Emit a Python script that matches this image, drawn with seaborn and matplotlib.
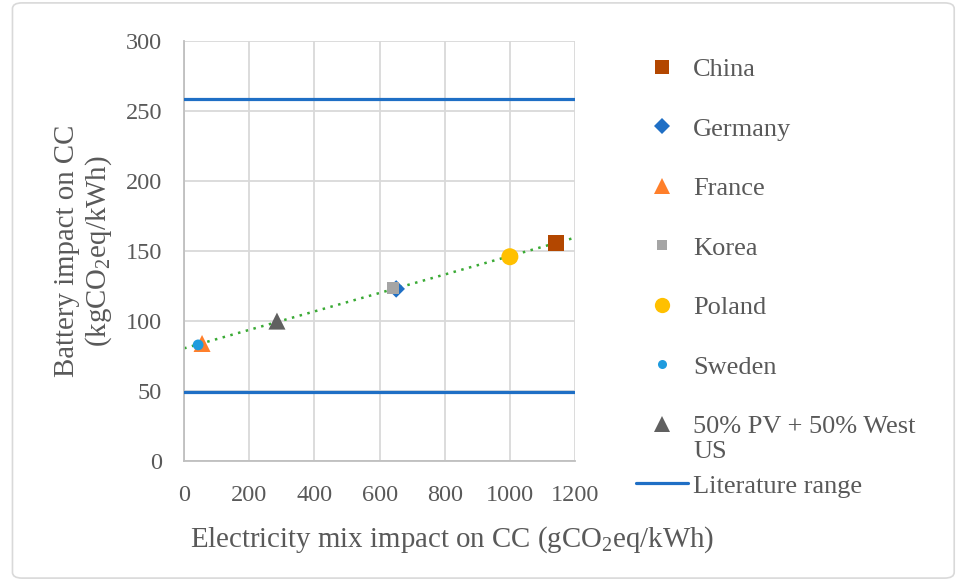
import numpy as np
import pandas as pd
import matplotlib
matplotlib.use("Agg")
import matplotlib.pyplot as plt
from matplotlib.lines import Line2D
from matplotlib.patches import FancyBboxPatch
import seaborn as sns

countries = ["China", "Germany", "France", "Korea", "Poland", "Sweden", "50% PV + 50% West US"]
elec_mix = [1142, 651, 55, 641, 1000, 43, 285]
battery = [156, 123, 84, 123.5, 146, 83, 100]
literature_range = [259, 49]
x_ticks = [0, 200, 400, 600, 800, 1000, 1200]
y_ticks = [0, 50, 100, 150, 200, 250, 300]

markers = ["s", "D", "^", "s", "o", "o", "^"]
colors = ["#b34700", "#1f6fc5", "#ff7f2a", "#a5a5a5", "#ffc000", "#1f9bde", "#606060"]
msizes = [140, 80, 150, 70, 150, 60, 150]
leg_sizes = [10.5, 8.5, 11, 7, 11, 6.5, 11]

sns.set_theme(style="white")
plt.rcParams["font.family"] = ["Liberation Serif", "DejaVu Serif"]
plt.rcParams["mathtext.fontset"] = "custom"
plt.rcParams["mathtext.rm"] = "Liberation Serif"

text_col = "#595959"
fs_leg = 19
fs_lab = 20.8
fig = plt.figure(figsize=(9.59, 5.81), dpi=100)
ax = fig.add_axes([0.192, 0.2065, 0.4076, 0.7225])
ax.set_xlim(0, 1200)
ax.set_ylim(0, 300)

df = pd.DataFrame({"country": countries, "x": elec_mix, "y": battery})

# trend line
sns.regplot(data=df, x="x", y="y", ax=ax, scatter=False, ci=None, truncate=False,
            line_kws=dict(color="#3aaa35", lw=1.8, ls=(0, (1, 2.2)), zorder=2))

for hl in literature_range:
    ax.axhline(hl, color="#1f6fc5", lw=2.3, zorder=3)

handles = []
for c, m, col, s, ls_ in zip(countries, markers, colors, msizes, leg_sizes):
    sub = df[df["country"] == c]
    sns.scatterplot(data=sub, x="x", y="y", ax=ax, marker=m, color=col, s=s,
                    edgecolor="none", linewidth=0, zorder=4, legend=False)
    lab = "50% PV + 50% West" if c.startswith("50%") else c
    handles.append(Line2D([], [], ls="none", marker=m, color=col, markersize=ls_,
                          markeredgewidth=0, label=lab))
handles.append(Line2D([], [], color="#1f6fc5", lw=2.3, label="Literature range"))

ax.set_xticks(x_ticks)
ax.set_yticks(y_ticks)
ax.grid(True, color="#d9d9d9", lw=1.3)
ax.set_axisbelow(True)
for sp in ["top", "right"]:
    ax.spines[sp].set_visible(False)
for sp in ["left", "bottom"]:
    ax.spines[sp].set_color("#bfbfbf")
    ax.spines[sp].set_linewidth(1.3)
ax.tick_params(axis="both", labelsize=17.5, colors=text_col, length=0)
ax.tick_params(axis="y", pad=16)
ax.tick_params(axis="x", pad=17)

ax.set_xlabel(r"Electricity mix impact on CC (gCO$_\mathregular{2}$eq/kWh)", fontsize=fs_lab,
              color=text_col, va="center")
ax.xaxis.set_label_coords(0.685, -0.188)
ax.set_ylabel("Battery impact on CC\n" + r"(kgCO$_\mathregular{2}$eq/kWh)", fontsize=fs_lab,
              color=text_col, linespacing=1.12, va="center")
ax.yaxis.set_label_coords(-0.2558, 0.5)

leg = fig.legend(handles=handles, loc="upper left", bbox_to_anchor=(0.6521, 0.9188),
                 frameon=False, fontsize=fs_leg, labelcolor=text_col, labelspacing=1.365,
                 handlelength=1.97, handletextpad=0.19, borderaxespad=0)
fig.text(693 / 959, 1 - 452 / 581, "US", fontsize=fs_leg, color=text_col, va="center", ha="left")

fig.patches.append(FancyBboxPatch((0.013, 0.005), 0.982, 0.99, boxstyle="round,pad=0,rounding_size=0.01",
                                  transform=fig.transFigure, fill=False, edgecolor="#d9d9d9", lw=1.2))

fig.savefig("out.png", dpi=100)
